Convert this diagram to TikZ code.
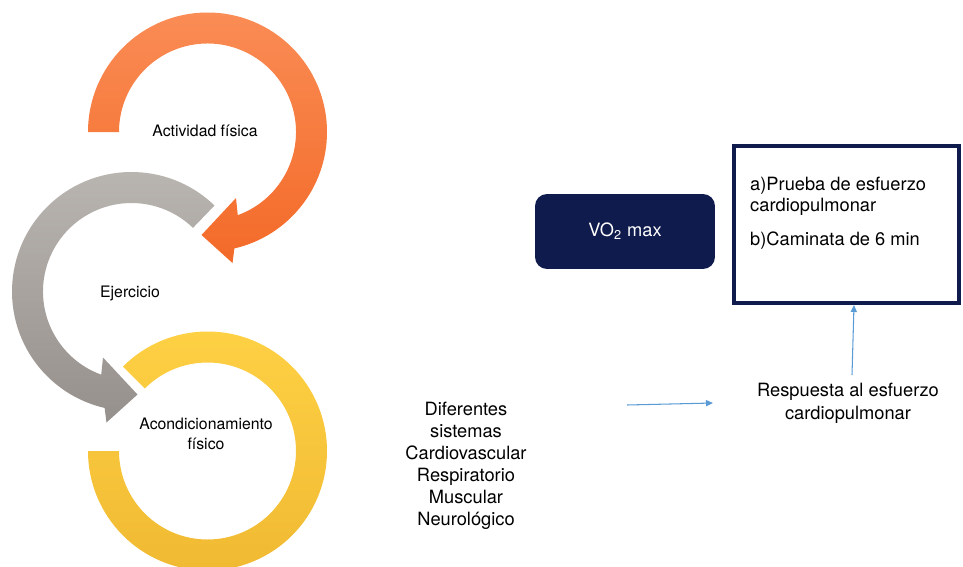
\documentclass[tikz,border=0pt]{standalone}
\usepackage{fontspec}
\setmainfont{TeX Gyre Heros}
\usetikzlibrary{arrows.meta,calc}
\definecolor{navy}{RGB}{15,27,77}
\definecolor{lineblue}{RGB}{91,155,213}
\definecolor{orangetop}{RGB}{250,140,85}
\definecolor{orangebot}{RGB}{243,106,40}
\definecolor{graytop}{RGB}{186,182,177}
\definecolor{graybot}{RGB}{150,144,141}
\definecolor{yellowtop}{RGB}{254,208,68}
\definecolor{yellowbot}{RGB}{240,186,50}
\begin{document}
\begin{tikzpicture}[x=0.02cm,y=0.02cm,
  small/.style={font=\fontsize{9}{11}\selectfont,align=center},
  txt/.style={font=\fontsize{10.4}{12.5}\selectfont,align=center},
  conn/.style={draw=lineblue,line width=0.6pt,-{Triangle[length=4pt,width=3.5pt]}}]
\useasboundingbox (0,0) rectangle (963,566);
\coordinate (oc) at (207.5,434);
\coordinate (gc) at (131.5,274.5);
\coordinate (yc) at (207.5,115);

\shade[top color=orangetop,bottom color=orangebot] ($(oc)+(180:119.5)$) arc[start angle=180,end angle=-77,radius=119.5]
  -- ($(oc)+(25,-131)$) -- ($(oc)+(-6,-103)$) -- ($(oc)+(28.5,-66)$)
  -- ($(oc)+(-70:88.5)$) arc[start angle=-70,end angle=180,radius=88.5] -- cycle;
\shade[top color=graytop,bottom color=graybot] ($(gc)+(46:119.5)$) arc[start angle=46,end angle=257,radius=119.5]
  -- ($(gc)+(-25,-131)$) -- ($(gc)+(6,-103)$) -- ($(gc)+(-28.5,-66)$)
  -- ($(gc)+(250:88.5)$) arc[start angle=250,end angle=46,radius=88.5] -- cycle;
\shade[top color=yellowtop,bottom color=yellowbot] ($(yc)+(180:119.5)$) arc[start angle=180,end angle=495,radius=119.5]
  -- ($(yc)+(495:88.5)$) arc[start angle=495,end angle=180,radius=88.5] -- cycle;

\node (act) [small] at (205,435) {Actividad física};
\node (ej) [small] at (130,273) {Ejercicio};
\node (acon) [small] at (206,132) {Acondicionamiento\\físico};

\node (vo) [fill=navy,rounded corners=0.24cm,minimum width=3.6cm,minimum height=1.5cm,txt,text=white] at (625,334.5) {VO\textsubscript{2} max};
\node (box) [draw=navy,line width=0.08cm,minimum width=4.5cm,minimum height=3.14cm] at (846.5,341.5) {};
\node (list) [txt,font=\fontsize{10.4}{12}\selectfont,align=left,anchor=north west] at ($(box.north west)+(12,-27)$) {a)Prueba de esfuerzo\\cardiopulmonar\\[0.25cm]b)Caminata de 6 min};

\node (sis) [txt] at (466,100) {Diferentes\\sistemas\\Cardiovascular\\Respiratorio\\Muscular\\Neurológico};
\node (resp) [txt,font=\fontsize{10.4}{13}\selectfont] at (848,162.5) {Respuesta al esfuerzo\\cardiopulmonar};

\coordinate (hs) at (627,161);
\coordinate (he) at (713,163);
\coordinate (vs) at (852,191);
\draw [conn] (hs) -- (he);
\draw [conn] (vs) -- ($(box.south)+(7.5,0)$);
\end{tikzpicture}
\end{document}
